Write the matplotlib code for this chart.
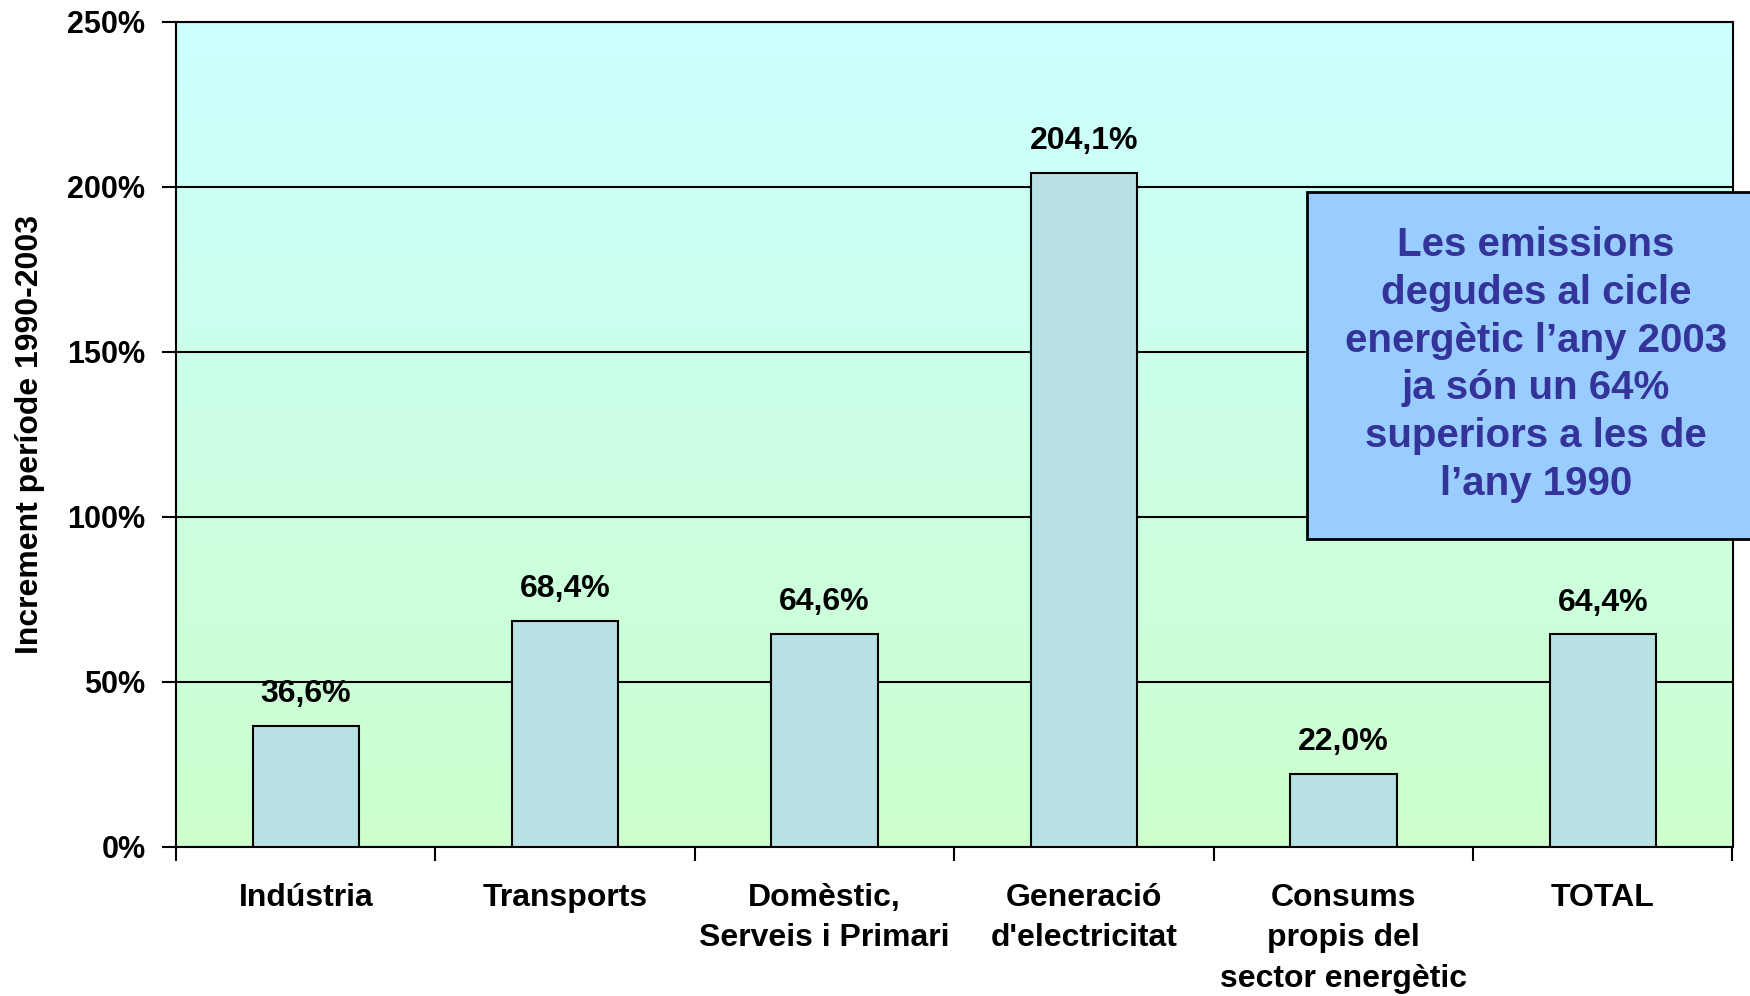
import numpy as np
import matplotlib
matplotlib.use("Agg")
import matplotlib.pyplot as plt
from matplotlib.patches import Rectangle
from matplotlib.ticker import FuncFormatter

plt.rcParams["font.family"] = ["Liberation Sans", "DejaVu Sans"]
plt.rcParams["font.weight"] = "bold"

# Dades: increment d'emissions 1990-2003 per sector
sectors = ["Indústria", "Transports", "Domèstic,\nServeis i Primari",
           "Generació\nd'electricitat", "Consums\npropis del\nsector energètic",
           "TOTAL"]
increments = [36.6, 68.4, 64.6, 204.1, 22.0, 64.4]
yticks = [0, 50, 100, 150, 200, 250]

fig = plt.figure(figsize=(17.5, 9.96), dpi=100)
ax = fig.add_axes([0.1006, 0.1496, 0.8894, 0.8284])

x = np.arange(len(sectors))

# fons degradat (cian a dalt, verd clar a baix)
top = np.array([204, 255, 255]) / 255
bot = np.array([204, 255, 204]) / 255
t = np.linspace(0, 1, 256)[:, None]
grad = (top * (1 - t) + bot * t)[:, None, :]
ax.imshow(grad, extent=[-0.5, len(sectors) - 0.5, 0, 250], aspect="auto",
          zorder=0, origin="upper")

ax.bar(x, increments, width=0.41, color="#B9E0E3", edgecolor="black",
       linewidth=1.5, zorder=3)

for xi, v in zip(x, increments):
    ax.annotate(f"{v:.1f}%".replace(".", ","), (xi, v), xytext=(0, 23),
                textcoords="offset points", ha="center", va="center",
                fontsize=23, fontweight="bold", zorder=4)

ax.set_xlim(-0.5, len(sectors) - 0.5)
ax.set_ylim(0, 250)
ax.set_yticks(yticks)
ax.yaxis.set_major_formatter(FuncFormatter(lambda v, p: f"{v:.0f}%"))
ax.grid(axis="y", color="black", linewidth=1.5, zorder=1)
ax.set_axisbelow(True)

# marques de l'eix X entre categories, etiquetes al centre
ax.set_xticks(np.arange(len(sectors) + 1) - 0.5)
ax.set_xticklabels([])
ax.set_xticks(x, minor=True)
ax.set_xticklabels(sectors, minor=True, fontsize=23, fontweight="bold",
                   linespacing=1.45, va="top")
ax.tick_params(axis="x", which="minor", length=0, pad=26)
ax.tick_params(axis="x", which="major", length=10, width=1.5, direction="out")
ax.tick_params(axis="y", length=10, width=1.5, direction="out", labelsize=22,
               pad=12)
for lab in ax.get_yticklabels():
    lab.set_fontweight("bold")

for s in ax.spines.values():
    s.set_linewidth(1.5)
    s.set_color("black")

ax.set_ylabel("Increment període 1990-2003", fontsize=23, fontweight="bold",
              labelpad=16)

# quadre de text
fig.patches.append(Rectangle((0.747, 0.459), 0.27, 0.348,
                             transform=fig.transFigure, facecolor="#99CCFF",
                             edgecolor="black", linewidth=2, zorder=10))
fig.text(0.8777, 0.634,
         "Les emissions\ndegudes al cicle\nenergètic l’any 2003\n"
         "ja són un 64%\nsuperiors a les de\nl’any 1990",
         ha="center", va="center", fontsize=29, fontweight="bold",
         color="#333399", linespacing=1.33, zorder=11)

fig.savefig("out.png", dpi=100)
